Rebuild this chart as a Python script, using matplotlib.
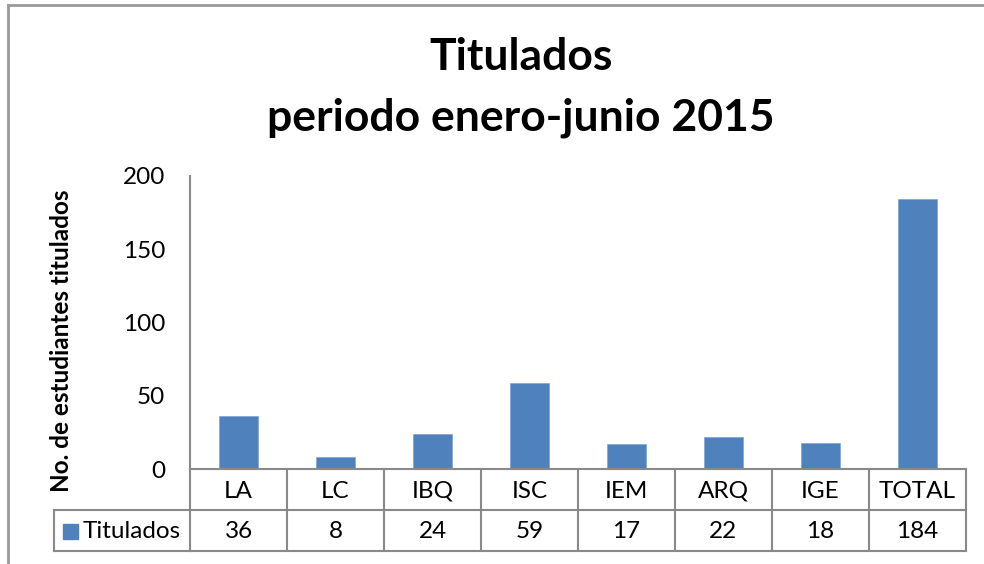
import matplotlib
matplotlib.use("Agg")
import matplotlib.pyplot as plt
from matplotlib.transforms import blended_transform_factory
from matplotlib.patches import Rectangle

categories = ["LA", "LC", "IBQ", "ISC", "IEM", "ARQ", "IGE", "TOTAL"]
values = [36, 8, 24, 59, 17, 22, 18, 184]
series_name = "Titulados"
y_ticks = [0, 50, 100, 150, 200]
title_lines = ["Titulados", "periodo enero-junio 2015"]
ylabel = "No. de estudiantes titulados"

plt.rcParams['font.family'] = ['Lato', 'DejaVu Sans']
BAR = "#4F81BD"
GRID = "#898989"
FS = 17.5

W, H = 984, 564
fig = plt.figure(figsize=(W / 100, H / 100), dpi=100)

over = fig.add_axes([0, 0, 1, 1])
over.set_xlim(0, W)
over.set_ylim(H, 0)
over.axis('off')
over.patch.set_visible(False)

x0, x1, y0, y1 = 190, 966, 469, 176
ax = fig.add_axes([x0 / W, (H - y0) / H, (x1 - x0) / W, (y0 - y1) / H])
ax.patch.set_visible(False)
xs = list(range(len(categories)))
ax.bar(xs, values, width=0.4, color=BAR, edgecolor="#7FA3D3", linewidth=0.5)
ax.set_xlim(-0.5, len(categories) - 0.5)
ax.set_ylim(0, 200)
ax.set_yticks(y_ticks)
ax.set_yticklabels([str(t) for t in y_ticks], fontsize=FS)
ax.tick_params(axis='y', length=0, pad=18, colors="black")
ax.set_xticks([])
for s in ["top", "right"]:
    ax.spines[s].set_visible(False)
ax.spines["left"].set_color(GRID)
ax.spines["left"].set_linewidth(1.5)
ax.spines["bottom"].set_color(GRID)
ax.spines["bottom"].set_linewidth(1.5)

# data table
tr = blended_transform_factory(ax.transData, over.transData)
n = len(categories)
for i in range(n + 1):
    over.plot([i - 0.5, i - 0.5], [469, 551], color=GRID, lw=1.5, transform=tr, clip_on=False)
for yy in [510, 551]:
    over.plot([-0.5, n - 0.5], [yy, yy], color=GRID, lw=1.5, transform=tr, clip_on=False)
over.plot([54, 190], [510, 510], color=GRID, lw=1.5)
over.plot([54, 190], [551, 551], color=GRID, lw=1.5)
over.plot([54, 54], [510, 551], color=GRID, lw=1.5)
for i, (c, v) in enumerate(zip(categories, values)):
    over.text(i, 491, c, ha="center", va="center", fontsize=FS, transform=tr)
    over.text(i, 532, str(v), ha="center", va="center", fontsize=FS, transform=tr)
over.add_patch(Rectangle((63, 524), 15, 15, color=BAR))
over.text(83, 532, series_name, ha="left", va="center", fontsize=FS)

# title and label
over.text(521, 57, title_lines[0], ha="center", va="center", fontsize=32, fontweight="bold")
over.text(521, 118, title_lines[1], ha="center", va="center", fontsize=32, fontweight="bold")
over.text(62, 341, ylabel, ha="center", va="center", rotation=90, fontsize=17.5, fontweight="bold")

# outer border
over.plot([8, 8], [5, H], color="#999999", lw=2)
over.plot([8, W], [5, 5], color="#999999", lw=2)

fig.savefig("out.png", dpi=100)
